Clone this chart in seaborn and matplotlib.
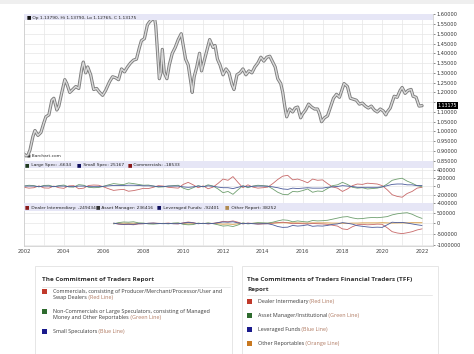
import numpy as np
import matplotlib.pyplot as plt
import seaborn as sns
from matplotlib.patches import Rectangle
from matplotlib.ticker import FormatStrFormatter, FuncFormatter, MultipleLocator

# ---- data ----
price_year = [2002.00, 2002.10, 2002.20, 2002.30, 2002.45, 2002.55, 2002.70, 2002.85,
              2003.00, 2003.10, 2003.25, 2003.40, 2003.50, 2003.65, 2003.75, 2003.90,
              2004.05, 2004.15, 2004.30, 2004.45, 2004.60, 2004.75, 2004.90, 2004.98,
              2005.10, 2005.20, 2005.35, 2005.50, 2005.65, 2005.80, 2005.95,
              2006.10, 2006.30, 2006.45, 2006.60, 2006.75, 2006.90,
              2007.05, 2007.20, 2007.35, 2007.50, 2007.65, 2007.80, 2007.90,
              2008.05, 2008.20, 2008.30, 2008.45, 2008.55, 2008.62, 2008.68, 2008.75,
              2008.80, 2008.88, 2008.95, 2009.05, 2009.18, 2009.30, 2009.45, 2009.60,
              2009.75, 2009.90, 2010.00, 2010.12, 2010.25, 2010.40, 2010.45, 2010.55,
              2010.68, 2010.82, 2010.92, 2011.05, 2011.20, 2011.33, 2011.50, 2011.60,
              2011.72, 2011.85, 2012.00, 2012.15, 2012.30, 2012.45, 2012.55, 2012.70,
              2012.85, 2013.00, 2013.15, 2013.30, 2013.45, 2013.60, 2013.75, 2013.90,
              2014.05, 2014.20, 2014.35, 2014.50, 2014.62, 2014.75, 2014.90, 2015.00,
              2015.10, 2015.20, 2015.35, 2015.50, 2015.62, 2015.75, 2015.90, 2016.00,
              2016.15, 2016.30, 2016.45, 2016.60, 2016.75, 2016.85, 2016.95, 2017.10,
              2017.25, 2017.40, 2017.55, 2017.70, 2017.85, 2018.00, 2018.08, 2018.25,
              2018.40, 2018.55, 2018.70, 2018.85, 2019.00, 2019.15, 2019.30, 2019.45,
              2019.60, 2019.75, 2019.90, 2020.05, 2020.18, 2020.25, 2020.40, 2020.50,
              2020.60, 2020.75, 2020.90, 2021.00, 2021.15, 2021.30, 2021.45, 2021.55,
              2021.70, 2021.85, 2022.00]
price_close = [0.885, 0.875, 0.880, 0.905, 0.975, 1.005, 0.980, 0.995,
               1.045, 1.075, 1.085, 1.160, 1.170, 1.110, 1.130, 1.200,
               1.265, 1.245, 1.200, 1.215, 1.230, 1.220, 1.320, 1.355,
               1.300, 1.330, 1.290, 1.215, 1.220, 1.200, 1.185,
               1.210, 1.255, 1.280, 1.275, 1.265, 1.320,
               1.305, 1.330, 1.350, 1.365, 1.370, 1.430, 1.465,
               1.475, 1.545, 1.560, 1.575, 1.585, 1.540, 1.450, 1.350,
               1.270, 1.300, 1.420, 1.300, 1.270, 1.340, 1.400, 1.430,
               1.470, 1.500, 1.440, 1.370, 1.340, 1.240, 1.200, 1.280,
               1.330, 1.400, 1.310, 1.360, 1.420, 1.470, 1.430, 1.440,
               1.370, 1.340, 1.290, 1.320, 1.300, 1.240, 1.215, 1.290,
               1.300, 1.320, 1.290, 1.310, 1.300, 1.330, 1.350, 1.380,
               1.360, 1.380, 1.385, 1.355, 1.330, 1.270, 1.245, 1.200,
               1.130, 1.075, 1.115, 1.100, 1.120, 1.125, 1.070, 1.090,
               1.110, 1.140, 1.125, 1.115, 1.115, 1.090, 1.050, 1.070,
               1.080, 1.125, 1.170, 1.190, 1.175, 1.220, 1.245, 1.230,
               1.170, 1.165, 1.160, 1.140, 1.145, 1.130, 1.120, 1.130,
               1.110, 1.100, 1.115, 1.105, 1.085, 1.100, 1.120, 1.150,
               1.180, 1.175, 1.210, 1.225, 1.195, 1.210, 1.215, 1.180,
               1.175, 1.130, 1.132]
last_open, last_high, last_low, last_close = 1.13790, 1.13790, 1.12765, 1.13175

# legacy COT (thousands of contracts), quarterly 2002 - 2022
cot_year = np.arange(2002, 2022.01, 0.25)
large_spec = [10, 30, 20, -10, 25, 30, -5, 20, 35, -10, -15, 45, 30, -20, -30, -25,
              5, 40, 70, 55, 45, 85, 70, 50, 30, 35, 10, -15, -10, 10, 20, 30,
              -40, -80, -30, 20, -10, 40, 10, -60, -150, -120, -190, -80, 20, -30, 10, 30,
              20, 10, -60, -140, -190, -200, -120, -130, -100, -60, -140, -110,
              -120, -50, 20, 40, 100, 50, -20, -40, -30, -60, -50, -40,
              -10, 60, 150, 180, 200, 130, 80, 20, -7]
commercials = [-20, -40, -30, 15, -35, -40, 10, -30, -45, 15, 20, -55, -40, 25, 35, 30,
               -10, -55, -95, -80, -70, -115, -100, -75, -45, -50, -20, 20, 10, -20, -30, -40,
               50, 100, 40, -30, 15, -55, -15, 75, 180, 150, 240, 100, -30, 40, -15, -40,
               -30, -15, 70, 170, 250, 270, 160, 180, 140, 90, 180, 150,
               160, 70, -10, -40, -120, -60, 20, 60, 50, 80, 70, 60,
               20, -80, -200, -240, -260, -170, -120, -40, -19]
small_spec = [10, 10, 10, -5, 10, 10, -5, 10, 10, -5, -5, 10, 10, -5, -5, -5,
              5, 15, 25, 25, 25, 30, 30, 25, 15, 15, 10, -5, 0, 10, 10, 10,
              -10, -20, -10, 10, -5, 15, 5, -15, -30, -30, -50, -20, 10, -10, 5, 10,
              10, 5, -10, -30, -60, -70, -40, -50, -40, -30, -40, -40,
              -40, -20, -10, 0, 20, 10, 0, -20, -20, -20, -20, -20,
              -10, 20, 50, 60, 60, 40, 40, 20, 25]
cot_last = {'Large Spec': -6634, 'Small Spec': 25167, 'Commercials': -18533}

# TFF report (thousands), quarterly mid-2006 - 2022
tff_year = np.arange(2006.5, 2022.01, 0.25)
dealer = [10, -30, -50, -40, -60, -20, -10, 10, 20, 10, 0, 20, -10, -20,
          30, 70, 40, -10, 10, -20, 10, 40, 100, 80, 120, 60, -20, 20, 0, -30,
          -20, -10, 20, 40, 60, 30, -10, 0, -10, -20, 0, -10, -20, -40, -80, -120,
          -250, -280, -150, -60, -40, -60, -50, -30, -40, -200, -380, -440,
          -470, -430, -380, -300, -249]
asset_mgr = [-20, 40, 70, 60, 80, 30, 20, -20, -30, -10, 10, -20, 20, 30,
             -40, -60, -50, 20, -10, 30, -10, -60, -120, -100, -140, -70, 30, -20, 10, 40,
             30, 20, 60, 120, 170, 150, 80, 120, 90, 70, 140, 120, 130, 150, 200, 250,
             300, 320, 260, 220, 230, 260, 280, 270, 290, 320, 400, 450,
             480, 500, 430, 320, 236]
leveraged = [20, -20, -40, -30, -40, -10, -10, 10, 20, 0, -10, 0, -10, -10,
             20, 50, 30, -10, 10, -10, 0, 40, 70, 60, 80, 30, -10, 10, -10, -20,
             -10, -10, -60, -140, -180, -170, -90, -120, -100, -60, -130, -110, -120, -90, -40, -20,
             40, 10, -30, -100, -130, -160, -180, -170, -180, -60, 60, 40,
             50, 20, -20, -60, -92]
other_rep = [5, 10, 15, 10, 15, 5, 5, 5, 0, 0, 5, 5, 5, 10,
             0, -20, -10, 5, 0, 10, 5, -10, -30, -20, -40, -10, 10, 0, 10, 15,
             10, 10, 20, 30, 40, 40, 30, 30, 20, 20, 30, 30, 30, 30, 20, 20,
             10, 10, 20, 20, 30, 30, 30, 30, 40, 30, 20, 30,
             30, 30, 40, 40, 38]
tff_last = {'Dealer Intermediary': -249434, 'Asset Manager': 236416,
            'Leveraged Funds': -92401, 'Other Report': 38252}

years = list(range(2002, 2023, 2))

# ---- style ----
sns.set_style("white")
plt.rcParams['font.family'] = ['DejaVu Sans']

RED, GREEN, BLUE, ORANGE = '#c86a6a', '#6f9f6f', '#4a5a9a', '#d9a050'
GRID = '#e6e6e6'
BAND = '#e6e6f6'

fig = plt.figure(figsize=(4.74, 3.54), dpi=100)
W, H = 474, 354

def panel(top, bottom):
    return fig.add_axes([24 / W, 1 - bottom / H, (433 - 24) / W, (bottom - top) / H])

ax_p = panel(14, 161)
ax_c = panel(161, 203)
ax_t = panel(203, 246)

for ax in (ax_p, ax_c, ax_t):
    ax.set_xlim(2002, 2022.55)
    ax.xaxis.set_major_locator(MultipleLocator(2))
    ax.xaxis.set_minor_locator(MultipleLocator(1))
    ax.grid(True, which='both', color=GRID, linewidth=0.5)
    ax.set_axisbelow(True)
    ax.yaxis.tick_right()
    ax.tick_params(axis='y', labelsize=3.6, length=1.5, width=0.4, pad=1, colors='#333333')
    ax.tick_params(axis='x', which='both', length=0, labelbottom=False)
    for s in ax.spines.values():
        s.set_color('#c8c8c8')
        s.set_linewidth(0.5)

# price panel (bar-like gray trace)
sns.lineplot(x=price_year, y=price_close, ax=ax_p, color='#7c7c7c', linewidth=2.3)
sns.lineplot(x=price_year, y=price_close, ax=ax_p, color='#dadada', linewidth=1.0)
ax_p.set_xlabel('')
ax_p.set_ylabel('')
ax_p.set_ylim(0.849, 1.601)
ax_p.set_yticks(np.arange(0.85, 1.601, 0.05))
# the last-price box sits over the 1.15 label
ax_p.yaxis.set_major_formatter(FuncFormatter(
    lambda v, pos: '' if abs(v - 1.15) < 1e-6 else f'{v:.5f}'))
ax_p.add_patch(Rectangle((0, 0.959), 1, 0.041, transform=ax_p.transAxes,
                         facecolor=BAND, edgecolor='none', zorder=3))
t0 = ax_p.text(0.006, 0.979, '■', transform=ax_p.transAxes, fontsize=3.4, va='center',
               color='#111111', zorder=4)
ax_p.annotate(f' Op {last_open:.5f}, Hi {last_high:.5f}, Lo {last_low:.5f}, C {last_close:.5f}',
              xy=(1, 0), xycoords=t0, va='bottom', fontsize=3.2, color='#222222', zorder=4)
ax_p.text(0.008, 0.04, '◢ Barchart.com', transform=ax_p.transAxes, fontsize=3.2,
          va='center', color='#333333')
ax_p.annotate(f'{last_close:.5f}', xy=(1.012, last_close), xycoords=('axes fraction', 'data'),
              fontsize=3.4, color='white', va='center', ha='left', annotation_clip=False,
              bbox=dict(boxstyle='square,pad=0.2', facecolor='black', edgecolor='none'))

# legacy COT panel
sns.lineplot(x=cot_year, y=np.array(commercials) * 1000, ax=ax_c, color=RED, linewidth=0.6)
sns.lineplot(x=cot_year, y=np.array(large_spec) * 1000, ax=ax_c, color=GREEN, linewidth=0.6)
sns.lineplot(x=cot_year, y=np.array(small_spec) * 1000, ax=ax_c, color=BLUE, linewidth=0.6)
ax_c.set_xlabel('')
ax_c.set_ylabel('')
ax_c.set_ylim(-400000, 617000)
ax_c.set_yticks([-400000, -200000, 0, 200000, 400000])
ax_c.yaxis.set_major_formatter(FormatStrFormatter('%d'))

# TFF panel
ax_t.fill_between(tff_year, 0, np.array(other_rep) * 1000, color='#f3e6c0', alpha=0.8, linewidth=0)
sns.lineplot(x=tff_year, y=np.array(other_rep) * 1000, ax=ax_t, color=ORANGE, linewidth=0.6)
sns.lineplot(x=tff_year, y=np.array(dealer) * 1000, ax=ax_t, color=RED, linewidth=0.6)
sns.lineplot(x=tff_year, y=np.array(asset_mgr) * 1000, ax=ax_t, color=GREEN, linewidth=0.6)
sns.lineplot(x=tff_year, y=np.array(leveraged) * 1000, ax=ax_t, color=BLUE, linewidth=0.6)
ax_t.set_xlabel('')
ax_t.set_ylabel('')
ax_t.set_ylim(-1044000, 951000)
ax_t.set_yticks([-1000000, -500000, 0, 500000])
ax_t.yaxis.set_major_formatter(FormatStrFormatter('%d'))
ax_t.set_xticks(years)
ax_t.tick_params(axis='x', labelbottom=True, labelsize=3.8, pad=2, colors='#444444')

# header bands for the COT panels
def header(ax, frac, items, square_cols, xs):
    ax.add_patch(Rectangle((0, 1 - frac), 1, frac, transform=ax.transAxes,
                           facecolor=BAND, edgecolor='none', zorder=3))
    for (label, val), col, x in zip(items.items(), square_cols, xs):
        t = ax.text((x - 24) / 409, 1 - frac / 2, '■', transform=ax.transAxes, fontsize=3.4,
                    va='center', color=col, zorder=4)
        ax.annotate(f' {label}: {val}', xy=(1, 0), xycoords=t, va='bottom', fontsize=3.2,
                    color='#222222', zorder=4)

header(ax_c, 0.16, cot_last, ['#1f3a1f', '#101060', '#8a1a1a'], [25, 77, 128])
header(ax_t, 0.19, tff_last, ['#8a1a1a', '#333333', '#101060', '#b08a50'], [25, 96, 157, 225])

# ---- bottom description boxes (pixel coords) ----
bg = fig.add_axes([0, 0, 1, 1], zorder=-1)
bg.set_xlim(0, W)
bg.set_ylim(H, 0)
bg.axis('off')
bg.add_patch(Rectangle((0, 0), W, 3.5, facecolor='#efefef', edgecolor='none'))

ov = fig.add_axes([0, 0, 1, 1], zorder=5)
ov.set_xlim(0, W)
ov.set_ylim(H, 0)
ov.axis('off')
ov.patch.set_alpha(0)

TXT = '#3a3a3a'
LINK = '#b07a62'
BOX_FONT = ['Open Sans', 'DejaVu Sans']

def entry(x, y, col, lines, tail):
    ov.add_patch(Rectangle((x, y - 2.6), 5, 5, facecolor=col, edgecolor='none'))
    for i, ln in enumerate(lines):
        t = ov.text(x + 11, y + i * 6, ln, fontsize=3.9, color=TXT, va='center',
                    family=BOX_FONT)
    ov.annotate(' ' + tail, xy=(1, 0), xycoords=t, va='bottom', fontsize=3.9,
                color=LINK, family=BOX_FONT)

# left box
ov.add_patch(Rectangle((35, 266), 197, 95, facecolor='white', edgecolor='#e2e2e2', linewidth=0.6))
ov.text(42, 279, 'The Commitment of Traders Report', fontsize=4.6, fontweight='bold',
        color='#333333', va='center', family=BOX_FONT)
ov.plot([42, 230], [287, 287], color='#e4e4e4', linewidth=0.6)
entry(42, 292, '#c0392b',
      ['Commercials, consisting of Producer/Merchant/Processor/User and', 'Swap Dealers'],
      '(Red Line)')
entry(42, 312, '#2e6b2e',
      ['Non-Commercials or Large Speculators, consisting of Managed',
       'Money and Other Reportables'], '(Green Line)')
entry(42, 332, '#1a1a8c', ['Small Speculators'], '(Blue Line)')

# right box
ov.add_patch(Rectangle((242, 266), 196, 95, facecolor='white', edgecolor='#e2e2e2', linewidth=0.6))
ov.text(247, 279, 'The Commitments of Traders Financial Traders (TFF)', fontsize=4.6,
        fontweight='bold', color='#333333', va='center', family=BOX_FONT)
ov.text(247, 289, 'Report', fontsize=4.6, fontweight='bold', color='#333333', va='center',
        family=BOX_FONT)
ov.plot([247, 432], [295, 295], color='#e4e4e4', linewidth=0.6)
entry(247, 302, '#c0392b', ['Dealer Intermediary'], '(Red Line)')
entry(247, 316, '#2e6b2e', ['Asset Manager/Institutional'], '(Green Line)')
entry(247, 330, '#1a1a8c', ['Leveraged Funds'], '(Blue Line)')
entry(247, 344, '#c87820', ['Other Reportables'], '(Orange Line)')

plt.savefig('out.png', dpi=100)
